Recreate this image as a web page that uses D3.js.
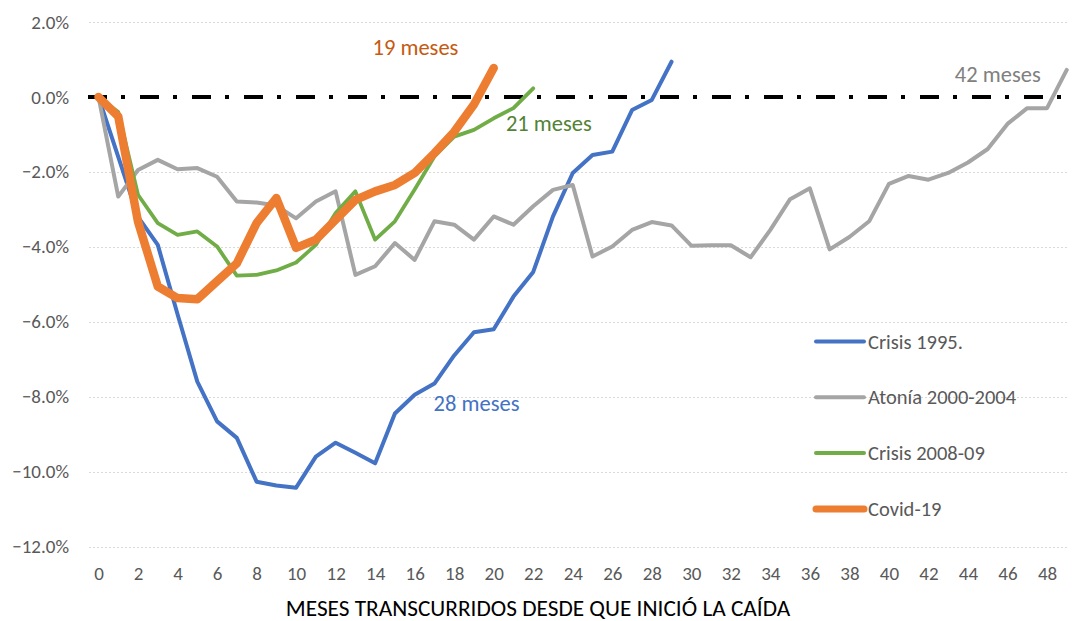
<!DOCTYPE html>
<html>
<head>
<meta charset="utf-8">
<script src="https://cdn.jsdelivr.net/npm/d3@7"></script>
<style>
  body { margin: 0; background: #fff; }
  text { font-family: Carlito, Lato, sans-serif; }
</style>
</head>
<body>
<svg width="1072" height="621"></svg>
<script>
// values in % change since the fall started, one per month (index = month)
const crisis1995 = [0, -1.6, -3.2, -3.95, -5.8, -7.6, -8.66, -9.1, -10.27, -10.37, -10.43, -9.6, -9.23, -9.5, -9.78,
    -8.45, -7.95, -7.65, -6.9, -6.28, -6.2, -5.33, -4.67, -3.19, -2.03, -1.55, -1.46, -0.35, -0.08, 0.94];
const atonia = [0, -2.66, -1.95, -1.68, -1.93, -1.9, -2.13, -2.79, -2.82, -2.9, -3.24, -2.79, -2.52, -4.75, -4.52,
    -3.9, -4.35, -3.32, -3.41, -3.81, -3.19, -3.41, -2.92, -2.48, -2.35, -4.26, -3.99, -3.55, -3.34, -3.43,
    -3.97, -3.96, -3.96, -4.28, -3.55, -2.73, -2.44, -4.07, -3.74, -3.32, -2.32, -2.11, -2.21, -2.03, -1.75,
    -1.39, -0.72, -0.3, -0.3, 0.72];
const crisis2008 = [0, -0.4, -2.61, -3.37, -3.68, -3.59, -3.99, -4.77, -4.75, -4.63, -4.42, -3.95, -3.1, -2.52, -3.81,
    -3.32, -2.47, -1.59, -1.06, -0.88, -0.57, -0.3, 0.23];
const covid = [0, -0.52, -3.33, -5.06, -5.37, -5.4, -4.92, -4.44, -3.37, -2.7, -4.03, -3.81, -3.28, -2.75, -2.52,
    -2.35, -2.03, -1.5, -0.93, -0.2, 0.77];

const seriesNames = ["Crisis 1995.", "Atonía 2000-2004", "Crisis 2008-09", "Covid-19"];
const xTicks = [0, 2, 4, 6, 8, 10, 12, 14, 16, 18, 20, 22, 24, 26, 28, 30, 32, 34, 36, 38, 40, 42, 44, 46, 48];
const yTicks = [2, 0, -2, -4, -6, -8, -10, -12];
const notes = [
    { text: "19 meses", month: 16.04, value: 1.12, color: "#C55A11" },
    { text: "21 meses", month: 22.79, value: -0.91, color: "#548235" },
    { text: "28 meses", month: 19.13, value: -8.37, color: "#4472C4" },
    { text: "42 meses", month: 45.51, value: 0.41, color: "#808080" }
];

const svg = d3.select("svg");

const x = d3.scaleLinear().domain([0, 48]).range([98.5, 1047]);
const y = d3.scaleLinear().domain([-12, 2]).range([546.5, 22]);
const plotLeft = 89, plotRight = 1069;

// gridlines
svg.append("g")
    .selectAll("line")
    .data(yTicks.filter(d => d !== 0))
    .join("line")
    .attr("x1", plotLeft)
    .attr("x2", plotRight)
    .attr("y1", d => Math.round(y(d)) + 0.5)
    .attr("y2", d => Math.round(y(d)) + 0.5)
    .attr("stroke", "#d9d9d9")
    .attr("stroke-width", 1)
    .attr("stroke-dasharray", "2,2");

// y axis labels
const yAxis = svg.append("g")
    .attr("transform", "translate(80,0)")
    .call(d3.axisLeft(y).tickValues(yTicks).tickSize(0).tickPadding(11)
        .tickFormat(d => d3.format(".1f")(d) + "%"));
yAxis.select(".domain").remove();
yAxis.selectAll("text")
    .attr("fill", "#595959")
    .style("font-size", "19px");

// x axis labels
const xAxis = svg.append("g")
    .attr("transform", "translate(0,563.5)")
    .call(d3.axisBottom(x).tickValues(xTicks).tickSize(0).tickPadding(3).tickFormat(d3.format("d")));
xAxis.select(".domain").remove();
xAxis.selectAll("text")
    .attr("fill", "#595959")
    .style("font-size", "19px");

// x axis title
svg.append("text")
    .attr("x", 538)
    .attr("y", 616)
    .attr("text-anchor", "middle")
    .attr("fill", "#000")
    .style("font-size", "23.3px")
    .text("MESES TRANSCURRIDOS DESDE QUE INICIÓ LA CAÍDA");

// zero reference line
svg.append("line")
    .attr("x1", 88)
    .attr("x2", plotRight)
    .attr("y1", y(0))
    .attr("y2", y(0))
    .attr("stroke", "#000")
    .attr("stroke-width", 4)
    .attr("stroke-dasharray", "19,14,4,15");

const line = d3.line()
    .x((d, i) => x(i))
    .y(d => y(d));

const series = [
    { name: seriesNames[0], values: crisis1995, color: "#4472C4", width: 4 },
    { name: seriesNames[1], values: atonia, color: "#A5A5A5", width: 4 },
    { name: seriesNames[2], values: crisis2008, color: "#70AD47", width: 3.75 },
    { name: seriesNames[3], values: covid, color: "#ED7D31", width: 8.5 }
];

svg.append("g")
    .selectAll("path")
    .data(series)
    .join("path")
    .attr("d", d => line(d.values))
    .attr("fill", "none")
    .attr("stroke", d => d.color)
    .attr("stroke-width", d => d.width)
    .attr("stroke-linejoin", "round")
    .attr("stroke-linecap", "round");

// annotations
svg.append("g")
    .selectAll("text")
    .data(notes)
    .join("text")
    .attr("x", d => x(d.month))
    .attr("y", d => y(d.value))
    .attr("text-anchor", "middle")
    .attr("fill", d => d.color)
    .style("font-size", "22.5px")
    .text(d => d.text);

// legend
const legend = svg.append("g")
    .selectAll("g")
    .data(series)
    .join("g")
    .attr("transform", (d, i) => `translate(816,${341.5 + i * 55.8})`);

legend.append("line")
    .attr("x1", 0)
    .attr("x2", 48)
    .attr("stroke", d => d.color)
    .attr("stroke-width", d => d.width > 5 ? 7 : 4)
    .attr("stroke-linecap", "round");

legend.append("text")
    .attr("x", 52)
    .attr("dy", "0.35em")
    .attr("fill", "#595959")
    .style("font-size", "20.5px")
    .text(d => d.name);
</script>
</body>
</html>
